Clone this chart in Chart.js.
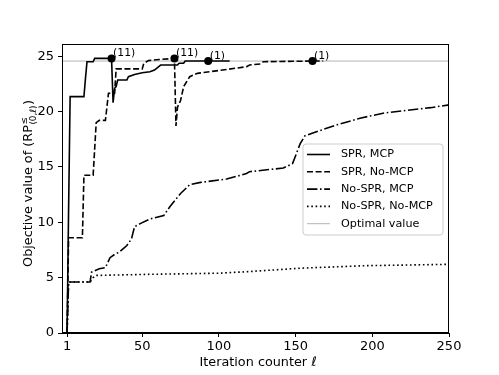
<!DOCTYPE html>
<html><head><meta charset="utf-8">
<script src="https://cdn.jsdelivr.net/npm/chart.js@4"></script>
<style>html,body{margin:0;padding:0;background:#fff}canvas{display:block}</style>
</head><body>
<canvas id="c" width="499" height="375"></canvas>
<script>
// ---- data (iteration, objective value) ----
const sprMcp = [[1,0],[2,11.2],[3,21.35],[12,21.35],[13,23.0],[14,24.5],[18,24.5],[19,24.8],[30,24.8],[31,20.8],[32,22.1],[33,22.25],[34,22.85],[40,22.85],[41,23.15],[45,23.35],[50,23.5],[55,23.6],[58,23.75],[62,24.2],[73,24.2],[74,24.36],[77,24.36],[78,24.56],[107,24.56]];
const sprNoMcp = [[1,0],[2,8.6],[11,8.6],[12,14.25],[18,14.25],[20,19.0],[22,19.2],[26,19.2],[28,21.65],[32,21.65],[33,23.85],[50,23.85],[51,24.35],[54,24.6],[61,24.7],[71,24.8],[72,18.7],[73,20.4],[75,21.0],[77,22.25],[81,23.15],[86,23.45],[94,23.6],[105,23.8],[118,24.05],[120,24.2],[127,24.3],[129,24.5],[161,24.56],[168,24.56]];
const noSprMcp = [[1,0],[2,4.6],[16,4.6],[17,5.5],[22,5.8],[26,5.9],[29,6.8],[32,7.1],[35,7.3],[40,7.9],[43,8.5],[45,9.6],[49,9.9],[55,10.3],[64,10.6],[68,11.4],[72,12.1],[75,12.6],[81,13.4],[88,13.6],[105,13.9],[118,14.4],[120,14.57],[142,14.9],[148,15.3],[153,17.1],[156,17.8],[164,18.2],[177,18.8],[192,19.4],[207,19.85],[222,20.1],[238,20.35],[250,20.6]];
const noSprNoMcp = [[1,0],[2,4.6],[16,4.6],[18,5.0],[20,5.2],[55,5.3],[100,5.4],[120,5.55],[153,5.85],[196,6.08],[250,6.2]];
const optimalValue = 24.56;
const markerPoints = [[30,24.8],[71,24.8],[93,24.56],[161,24.56]];
const markerLabels = ["(11)","(11)","(1)","(1)"];
const seriesNames = ["SPR, MCP","SPR, No-MCP","No-SPR, MCP","No-SPR, No-MCP","Optimal value"];
const xTicks = [1,50,100,150,200,250];
const yTicks = [0,5,10,15,20,25];
const xMin = -2.3, xMax = 250, yMin = 0, yMax = 26.1;

const FONT = "DejaVu Sans";
const toXY = a => a.map(p => ({x:p[0], y:p[1]}));
const lw = 1.6;
const dashes = [[], [6,2.6], [10.4,2.6,1.6,2.6], [1.6,2.7], []];

const datasets = [
  {label:seriesNames[0], data:toXY(sprMcp), borderDash:dashes[0]},
  {label:seriesNames[1], data:toXY(sprNoMcp), borderDash:dashes[1]},
  {label:seriesNames[2], data:toXY(noSprMcp), borderDash:dashes[2]},
  {label:seriesNames[3], data:toXY(noSprNoMcp), borderDash:dashes[3]},
].map(d => Object.assign(d, {borderColor:'#000', borderWidth:lw, pointRadius:0, tension:0, fill:false, borderCapStyle:'butt', borderJoinStyle:'miter'}));
datasets.push({label:seriesNames[4], data:[{x:xMin,y:optimalValue},{x:xMax,y:optimalValue}], borderColor:'#a0a0a0', borderWidth:0.8, pointRadius:0, fill:false, order:10});
datasets.push({label:'markers', data:toXY(markerPoints), showLine:false, pointRadius:4, pointBackgroundColor:'#000', pointBorderWidth:0, pointBorderColor:'#000', clip:false, order:-1});

const overlay = {
  id:'overlay',
  afterDraw(chart){
    const ctx = chart.ctx, a = chart.chartArea;
    const xs = chart.scales.x, ys = chart.scales.y;
    ctx.save();
    // frame
    ctx.strokeStyle = '#000'; ctx.lineWidth = 1; ctx.setLineDash([]);
    ctx.strokeRect(Math.round(a.left)+0.5, Math.round(a.top)+0.5, Math.round(a.right-a.left)-1, Math.round(a.bottom-a.top)-1);
    // marker labels
    ctx.fillStyle = '#000'; ctx.font = `10.8px "${FONT}"`; ctx.textBaseline = 'alphabetic'; ctx.textAlign = 'left';
    markerPoints.forEach((p,i) => {
      ctx.fillText(markerLabels[i], xs.getPixelForValue(p[0]) + 1.5, ys.getPixelForValue(p[1]) - 2.5);
    });
    // legend
    const bx = 303, by = 144, bw = 140, bh = 91, r = 3;
    ctx.beginPath();
    ctx.moveTo(bx+r,by); ctx.lineTo(bx+bw-r,by); ctx.quadraticCurveTo(bx+bw,by,bx+bw,by+r);
    ctx.lineTo(bx+bw,by+bh-r); ctx.quadraticCurveTo(bx+bw,by+bh,bx+bw-r,by+bh);
    ctx.lineTo(bx+r,by+bh); ctx.quadraticCurveTo(bx,by+bh,bx,by+bh-r);
    ctx.lineTo(bx,by+r); ctx.quadraticCurveTo(bx,by,bx+r,by); ctx.closePath();
    ctx.fillStyle = 'rgba(255,255,255,0.8)'; ctx.fill();
    ctx.strokeStyle = '#cccccc'; ctx.lineWidth = 1; ctx.stroke();
    ctx.font = `11.2px "${FONT}"`;
    for (let i=0;i<5;i++){
      const y = 154.5 + i*17.3;
      const ds = chart.data.datasets[i];
      ctx.beginPath(); ctx.setLineDash(ds.borderDash || []);
      ctx.lineCap = 'butt';
      ctx.strokeStyle = ds.borderColor; ctx.lineWidth = ds.borderWidth;
      ctx.moveTo(307, y); ctx.lineTo(330, y); ctx.stroke();
      ctx.setLineDash([]);
      ctx.fillStyle = '#000'; ctx.textBaseline = 'middle';
      ctx.fillText(seriesNames[i], 341, y);
    }
    // x title
    ctx.textBaseline = 'alphabetic';
    const t1 = "Iteration counter ", t2 = "ℓ";
    const tf = 12.8;
    ctx.font = `${tf}px "${FONT}"`;
    const w1 = ctx.measureText(t1).width;
    ctx.font = `italic ${tf}px "${FONT}"`;
    const w2 = ctx.measureText(t2).width;
    let sx = 258 - (w1+w2)/2;
    ctx.font = `${tf}px "${FONT}"`; ctx.fillText(t1, sx, 366);
    ctx.font = `italic ${tf}px "${FONT}"`; ctx.fillText(t2, sx + w1, 366);
    // y title (rotated) with super/subscripts
    ctx.save();
    ctx.translate(32, 183.5);
    ctx.rotate(-Math.PI/2);
    const main = "Objective value of (RP", sup = "≤", sub1 = "(0,", sub2 = "ℓ", sub3 = ")", close = ")";
    const big = `${tf}px "${FONT}"`, small = `${tf*0.7}px "${FONT}"`, smallI = `italic ${tf*0.7}px "${FONT}"`;
    ctx.font = big; const wm = ctx.measureText(main).width, wc = ctx.measureText(close).width;
    ctx.font = small; const wsup = ctx.measureText(sup).width, ws1 = ctx.measureText(sub1).width, ws3 = ctx.measureText(sub3).width;
    ctx.font = smallI; const ws2 = ctx.measureText(sub2).width;
    const wsub = ws1+ws2+ws3;
    const wscript = Math.max(wsup, wsub) + 0.8;
    const total = wm + wscript + wc;
    let x0 = -total/2;
    ctx.fillStyle = '#000';
    ctx.font = big; ctx.fillText(main, x0, 0);
    const sxs = x0 + wm + 0.5;
    ctx.font = small; ctx.fillText(sup, sxs, -5.5);
    ctx.fillText(sub1, sxs, 3.5);
    ctx.font = smallI; ctx.fillText(sub2, sxs + ws1, 3.5);
    ctx.font = small; ctx.fillText(sub3, sxs + ws1 + ws2, 3.5);
    ctx.font = big; ctx.fillText(close, x0 + wm + wscript, 0);
    ctx.restore();
    ctx.restore();
  }
};

new Chart(document.getElementById('c'), {
  type:'line',
  data:{datasets},
  options:{
    responsive:false, animation:false, devicePixelRatio:1,
    parsing:true,
    layout:{padding:{top:44, right:50, left:0, bottom:0}},
    plugins:{legend:{display:false}, tooltip:{enabled:false}},
    scales:{
      x:{type:'linear', min:xMin, max:xMax,
        afterBuildTicks(s){ s.ticks = xTicks.map(v=>({value:v})); },
        afterFit(s){ s.height = 42; },
        ticks:{color:'#000', font:{family:FONT, size:13}, padding:2, maxRotation:0, autoSkip:false, callback:v=>String(v)},
        grid:{drawOnChartArea:false, drawTicks:true, tickLength:4, tickColor:'#000', tickWidth:1},
        border:{display:true, color:'#000', width:1}},
      y:{type:'linear', min:yMin, max:yMax,
        afterBuildTicks(s){ s.ticks = yTicks.map(v=>({value:v})); },
        afterFit(s){ s.width = 62; },
        ticks:{color:'#000', font:{family:FONT, size:13}, padding:4, autoSkip:false, callback:v=>String(v)},
        grid:{drawOnChartArea:false, drawTicks:true, tickLength:4, tickColor:'#000', tickWidth:1},
        border:{display:true, color:'#000', width:1}}
    }
  },
  plugins:[overlay]
});
</script>
</body></html>
